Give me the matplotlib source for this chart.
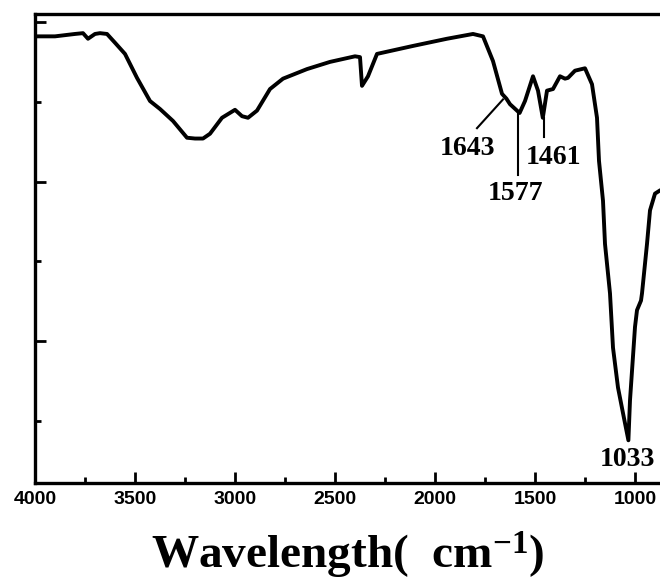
"""
FTIR spectrum with labelled bands (reproduction).
"""

import matplotlib
matplotlib.use("Agg")
import matplotlib.pyplot as plt
from matplotlib.ticker import MultipleLocator

# wavenumber (cm-1) and transmittance (arb. units)
wavenumber = [3995, 3900, 3800, 3760, 3735, 3700, 3675, 3640, 3600, 3550,
              3490, 3425, 3375, 3310, 3240, 3200, 3160, 3125, 3065, 3000,
              2965, 2935, 2890, 2825, 2760, 2640, 2525, 2400, 2375, 2365,
              2335, 2290, 2110, 1940, 1810, 1760, 1710, 1665, 1643, 1625,
              1577, 1550, 1510, 1485, 1461, 1440, 1410, 1375, 1350, 1335,
              1300, 1250, 1215, 1190, 1180, 1160, 1150, 1125, 1110, 1085,
              1060, 1033, 1025, 1000, 990, 985, 970, 965, 940, 925,
              900, 875, 855]
transmittance = [58.2, 58.2, 58.5, 58.6, 57.9, 58.5, 58.6, 58.5, 57.4, 56.0,
                 53.0, 50.1, 49.1, 47.6, 45.5, 45.4, 45.4, 46.0, 48.0, 49.0,
                 48.2, 48.0, 48.9, 51.6, 52.9, 54.1, 55.0, 55.7, 55.6, 52.0,
                 53.2, 56.0, 57.0, 57.9, 58.5, 58.2, 55.1, 51.0, 50.4, 49.7,
                 48.6, 50.1, 53.2, 51.4, 48.0, 51.4, 51.6, 53.2, 52.9, 53.0,
                 53.9, 54.2, 52.2, 48.0, 42.6, 37.6, 32.2, 26.0, 19.2, 14.2,
                 11.0, 7.6, 12.6, 21.8, 23.9, 24.2, 25.1, 26.0, 32.2, 36.4,
                 38.5, 38.9, 39.1]

band_labels = ["1643", "1577", "1461", "1033"]

plt.rcParams["mathtext.fontset"] = "custom"
plt.rcParams["mathtext.rm"] = "Liberation Serif:bold"
plt.rcParams["mathtext.it"] = "Liberation Serif:bold"
plt.rcParams["mathtext.bf"] = "Liberation Serif:bold"

fig = plt.figure(figsize=(6.6, 5.83), dpi=100)
# right spine falls just outside the picture, as in the cropped original
ax = fig.add_axes([35 / 660, 100 / 583, 629 / 660, 469 / 583])

ax.plot(wavenumber, transmittance, color="black", linewidth=2.8,
        solid_joinstyle="round", solid_capstyle="round")

ax.set_xlim(4000, 855)
ax.set_ylim(2.25, 61)

ax.xaxis.set_major_locator(MultipleLocator(500))
ax.xaxis.set_minor_locator(MultipleLocator(250))
ax.yaxis.set_major_locator(MultipleLocator(20))
ax.yaxis.set_minor_locator(MultipleLocator(10))
ax.set_yticklabels([])
ax.tick_params(which="both", direction="in", width=2, top=False, right=False)
ax.tick_params(which="major", length=8)
ax.tick_params(which="minor", length=4)
for lab in ax.get_xticklabels():
    lab.set_fontfamily("Liberation Sans")
    lab.set_fontweight("bold")
    lab.set_fontsize(14)
ax.tick_params(axis="x", pad=6)

for sp in ax.spines.values():
    sp.set_linewidth(2.4)

# band annotations
serif = dict(family="Liberation Serif", fontweight="bold", fontsize=20,
             ha="center", va="center")
ax.plot([1790, 1660], [46.7, 50.3], color="black", linewidth=1.5)
ax.text(1835, 44.2, band_labels[0], **serif)
ax.plot([1585, 1585], [48.6, 40.8], color="black", linewidth=1.5)
ax.text(1600, 38.5, band_labels[1], **serif)
ax.plot([1455, 1455], [48.0, 45.6], color="black", linewidth=1.5)
ax.text(1410, 43.0, band_labels[2], **serif)
ax.text(1040, 5.2, band_labels[3], **serif)

fig.text(348 / 660, 1 - 556 / 583, r"Wavelength(  cm$^{-1}$)",
         family="Liberation Serif", fontweight="bold", fontsize=34,
         ha="center", va="center")

fig.savefig("out.png", dpi=100)
